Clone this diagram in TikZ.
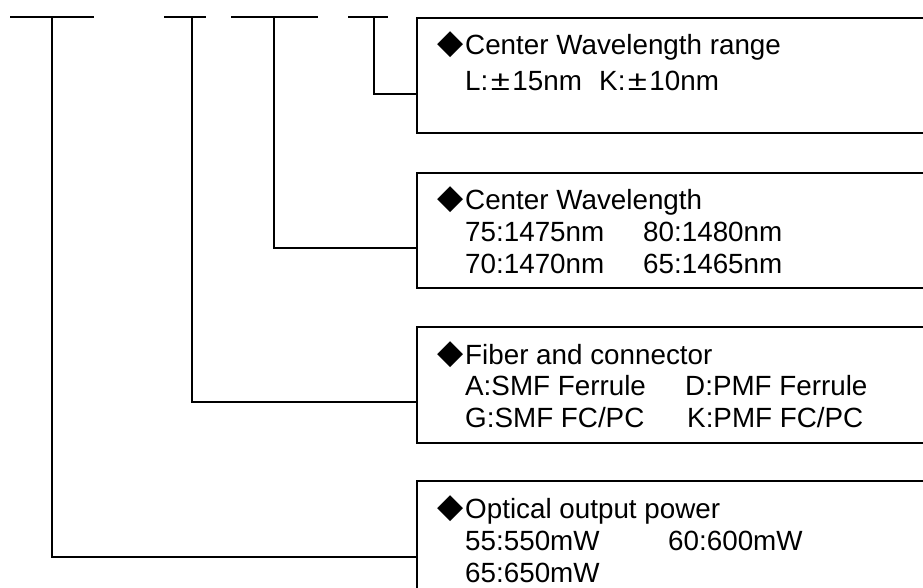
\documentclass[tikz,border=0pt]{standalone}
\usepackage{fontspec}
\setmainfont{Liberation Sans}
\newfontfamily\symfont{DejaVu Sans}
\usetikzlibrary{calc}
\newcommand\widepm{\makebox[24pt]{\scalebox{1.25}[1]{±}}}
\tikzset{
  infobox/.style={draw, line width=1.6pt, rectangle, anchor=north west, minimum width=560pt, inner sep=0pt},
  txt/.style={anchor=base west, inner sep=0pt, font=\fontsize{27.8}{30}\selectfont},
  dia/.style={anchor=center, inner sep=0pt, font=\symfont\fontsize{34}{34}\selectfont},
  wire/.style={line width=1.6pt},
}
\begin{document}
\begin{tikzpicture}[x=1pt,y=-1pt]
\useasboundingbox (0,0) rectangle (923,587);
\clip (0,0) rectangle (923,587);
% boxes
\node[infobox, minimum height=115pt] (b1) at (416,17) {};
\node[infobox, minimum height=115pt] (b2) at (416,172) {};
\node[infobox, minimum height=116pt] (b3) at (416,326) {};
\node[infobox, minimum height=116pt] (b4) at (416,480) {};
% top bars
\coordinate (a1) at (10,17);  \coordinate (z1) at (94,17);  \coordinate (t1) at (52,17);
\coordinate (a2) at (164,17); \coordinate (z2) at (206,17); \coordinate (t2) at (192,17);
\coordinate (a3) at (231,17); \coordinate (z3) at (318,17); \coordinate (t3) at (274,17);
\coordinate (a4) at (348,17); \coordinate (z4) at (388,17); \coordinate (t4) at (374,17);
\draw[wire] (a1) -- (z1);
\draw[wire] (a2) -- (z2);
\draw[wire] (a3) -- (z3);
\draw[wire] (a4) -- (z4);
% connectors
\draw[wire] (t4) |- ($(b1.north west)+(0,77)$);
\draw[wire] (t3) |- ($(b2.north west)+(0,76)$);
\draw[wire] (t2) |- ($(b3.north west)+(0,76)$);
\draw[wire] (t1) |- ($(b4.north west)+(0,77)$);
% box 1 text
\node[dia] (d1) at (451,44.5) {◆};
\node[txt] (h1) at (465,54) {Center Wavelength range};
\node[txt] (l1a) at (465,90) {L:\widepm15nm};
\node[txt] (l1b) at (599,90) {K:\widepm10nm};
% box 2 text
\node[dia] (d2) at (451,199.5) {◆};
\node[txt] (h2) at (465,209) {Center Wavelength};
\node[txt] (l2a) at (465,241) {75:1475nm};
\node[txt] (l2b) at (643,241) {80:1480nm};
\node[txt] (l2c) at (465,273) {70:1470nm};
\node[txt] (l2d) at (643,273) {65:1465nm};
% box 3 text
\node[dia] (d3) at (451,354.5) {◆};
\node[txt] (h3) at (465,364) {Fiber and connector};
\node[txt] (l3a) at (465,395.5) {A:SMF Ferrule};
\node[txt] (l3b) at (685,395.5) {D:PMF Ferrule};
\node[txt] (l3c) at (465,427) {G:SMF FC/PC};
\node[txt] (l3d) at (687,427) {K:PMF FC/PC};
% box 4 text
\node[dia] (d4) at (451,508.5) {◆};
\node[txt] (h4) at (465,518) {Optical output power};
\node[txt] (l4a) at (465,550) {55:550mW};
\node[txt] (l4b) at (668,550) {60:600mW};
\node[txt] (l4c) at (465,582) {65:650mW};
\end{tikzpicture}
\end{document}
